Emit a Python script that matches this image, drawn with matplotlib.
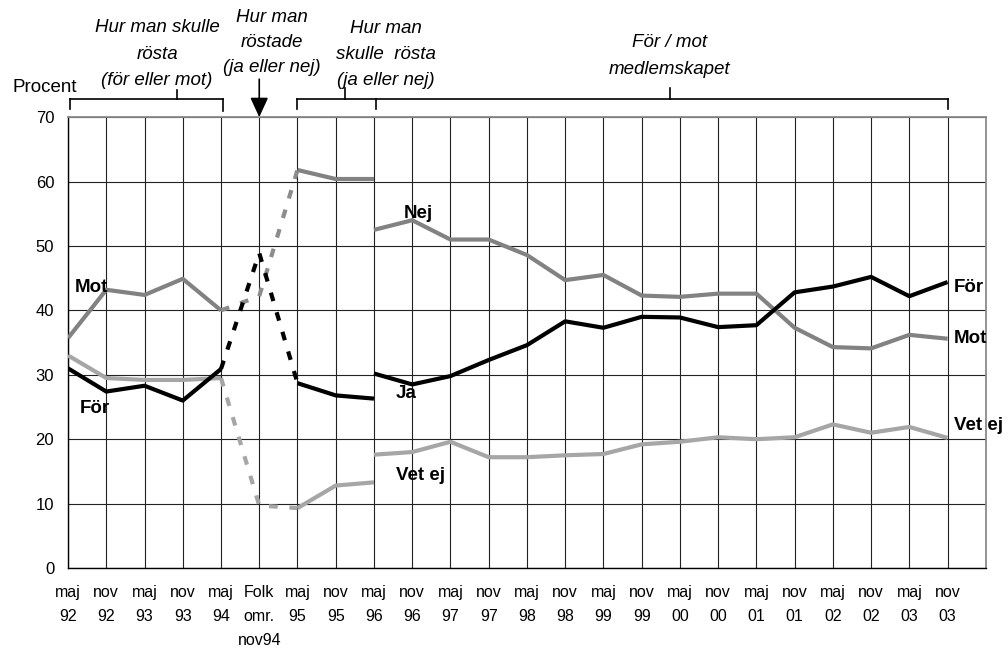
import numpy as np
import matplotlib
matplotlib.use("Agg")
import matplotlib.pyplot as plt

plt.rcParams["font.family"] = ["Liberation Sans", "DejaVu Sans"]

CATEGORIES = ["maj\n92", "nov\n92", "maj\n93", "nov\n93", "maj\n94", "Folk\nomr.\nnov94",
              "maj\n95", "nov\n95", "maj\n96", "nov\n96", "maj\n97", "nov\n97",
              "maj\n98", "nov\n98", "maj\n99", "nov\n99", "maj\n00", "nov\n00",
              "maj\n01", "nov\n01", "maj\n02", "nov\n02", "maj\n03", "nov\n03"]

# för/mot, maj 92 - maj 94 (start index 0)
FOR_92 = [31.0, 27.4, 28.3, 26.0, 30.9]
MOT_92 = [35.7, 43.2, 42.4, 44.9, 40.0]
VETEJ_92 = [33.0, 29.5, 29.2, 29.2, 29.5]

# folkomröstningen nov 94, dashed (start index 4)
JA_FOLK = [30.9, 48.9, 28.7]
NEJ_FOLK = [40.0, 42.2, 61.8]
VETEJ_FOLK = [29.5, 9.7, 9.3]

# ja/nej, maj 95 - maj 96 (start index 6)
JA_95 = [28.7, 26.8, 26.3]
NEJ_95 = [61.8, 60.4, 60.4]
VETEJ_95 = [9.3, 12.8, 13.3]

# för/mot medlemskapet, maj 96 - nov 03 (start index 8)
FOR_96 = [30.2, 28.5, 29.8, 32.3, 34.6, 38.3, 37.3, 39.0, 38.9, 37.4,
          37.7, 42.8, 43.7, 45.2, 42.2, 44.4]
MOT_96 = [52.5, 54.0, 51.0, 51.0, 48.6, 44.7, 45.5, 42.3, 42.1, 42.6,
          42.6, 37.3, 34.3, 34.1, 36.2, 35.6]
VETEJ_96 = [17.6, 18.0, 19.6, 17.2, 17.2, 17.5, 17.7, 19.2, 19.6, 20.3,
            20.0, 20.3, 22.3, 21.0, 21.9, 20.2]

BLACK, MID, LIGHT = "#000000", "#828282", "#a6a6a6"
LW = 3.0


def seg(ax, start, vals, color, dashed=False):
    x = np.arange(start, start + len(vals))
    kw = dict(dashes=(2.1, 2.8)) if dashed else {}
    ax.plot(x, vals, color=color, lw=LW, solid_capstyle="butt",
            dash_capstyle="butt", zorder=3, **kw)


fig = plt.figure(figsize=(10.08, 6.51), dpi=100)
ax = fig.add_axes([0.0675, 0.1275, 0.978 - 0.0675, 0.820 - 0.1275])

seg(ax, 0, MOT_92, MID)
seg(ax, 0, VETEJ_92, LIGHT)
seg(ax, 0, FOR_92, BLACK)
seg(ax, 4, NEJ_FOLK, "#8c8c8c", dashed=True)
seg(ax, 4, VETEJ_FOLK, LIGHT, dashed=True)
seg(ax, 4, JA_FOLK, BLACK, dashed=True)
seg(ax, 6, NEJ_95, MID)
seg(ax, 6, VETEJ_95, LIGHT)
seg(ax, 6, JA_95, BLACK)
seg(ax, 8, MOT_96, MID)
seg(ax, 8, VETEJ_96, LIGHT)
seg(ax, 8, FOR_96, BLACK)

ax.set_xlim(0, len(CATEGORIES))
ax.set_ylim(0, 70)
ax.set_yticks(np.arange(0, 71, 10))
ax.set_xticks(np.arange(len(CATEGORIES)))
ax.set_xticklabels(CATEGORIES, fontsize=11.5)
for t in ax.get_xticklabels():
    t.set_linespacing(1.75)
ax.tick_params(axis="y", labelsize=12, length=0, pad=10)
ax.tick_params(axis="x", length=0, pad=12)
ax.grid(True, color="#222222", lw=0.8, zorder=1)
ax.set_axisbelow(True)
for side in ("left", "bottom"):
    ax.spines[side].set_color("black")
    ax.spines[side].set_linewidth(1.0)
for side in ("top", "right"):
    ax.spines[side].set_color("#8a8a8a")
    ax.spines[side].set_linewidth(1.3)

# series labels
bold = dict(fontsize=13.5, fontweight="bold", va="center", zorder=4)
ax.text(0.18, 43.6, "Mot", **bold)
ax.text(0.31, 24.8, "För", **bold)
ax.text(8.78, 55.1, "Nej", **bold)
ax.text(8.57, 27.1, "Ja", **bold)
ax.text(8.57, 14.3, "Vet ej", **bold)
ax.text(23.16, 43.6, "För", **bold, clip_on=False)
ax.text(23.16, 35.7, "Mot", **bold, clip_on=False)
ax.text(23.16, 22.2, "Vet ej", **bold, clip_on=False)

# brackets above the plot
br = dict(color="black", lw=1.2, clip_on=False)
ax.plot([0.05, 4.05], [72.8, 72.8], **br)
ax.plot([0.05, 0.05], [72.8, 71.3], **br)
ax.plot([4.05, 4.05], [72.8, 71.0], **br)
ax.plot([2.85, 2.85], [72.8, 74.2], **br)
ax.plot([6.0, 23.0], [72.8, 72.8], **br)
for xb in (6.0, 8.05, 23.0):
    ax.plot([xb, xb], [72.8, 71.2], **br)
ax.plot([7.24, 7.24], [72.8, 74.6], **br)
ax.plot([15.73, 15.73], [72.8, 74.6], **br)
ax.annotate("", xy=(5, 70), xytext=(5, 75.9), annotation_clip=False,
            arrowprops=dict(arrowstyle="-|>,head_length=1.2,head_width=0.55",
                            color="black", lw=1.2, shrinkA=0, shrinkB=0))

it = dict(fontsize=13.5, style="italic", ha="center", va="center",
          linespacing=1.7, clip_on=False)
ax.text(2.33, 79.8, "Hur man skulle\nrösta\n(för eller mot)", **it)
ax.text(5.33, 81.6, "Hur man\nröstade\n(ja eller nej)", **dict(it, linespacing=1.6))
ax.text(8.31, 79.7, "Hur man\nskulle  rösta\n(ja eller nej)", **it)
ax.text(15.73, 79.5, "För / mot\nmedlemskapet", **it)

fig.text(12 / 1008, 1 - 88 / 651, "Procent", fontsize=13.5, va="center")

fig.savefig("out.png", dpi=100, facecolor="white")
